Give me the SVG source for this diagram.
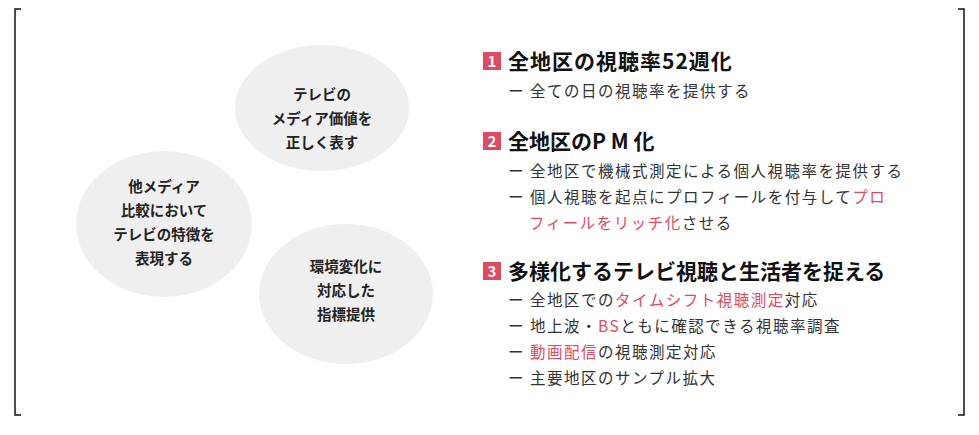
<svg xmlns="http://www.w3.org/2000/svg" width="979" height="435" viewBox="0 0 979 435">
<style>
.br{fill:none;stroke:#111;stroke-width:1.5}
.blob{fill:#efefef}
.bt{font-family:"Noto Sans CJK JP","Noto Sans",sans-serif;font-size:14.5px;font-weight:bold;fill:#222;text-anchor:middle}
.h{font-family:"Noto Sans CJK JP","Noto Sans",sans-serif;font-size:21px;font-weight:bold;fill:#111}
.num{font-family:"Noto Sans CJK JP","Noto Sans",sans-serif;font-size:15px;font-weight:bold;fill:#fff;text-anchor:middle}
.nb{fill:#e04a5f}
.t{font-family:"Noto Sans CJK JP","Noto Sans",sans-serif;font-size:15.5px;fill:#333;letter-spacing:1.5px}
.r{fill:#e04a5f}
</style>
<g id="frame">
<path class="br" d="M21 9 H15 V415 H21"/>
<path class="br" d="M958 9 H964 V415 H958"/>
</g>
<g id="node1"><ellipse class="blob" cx="322" cy="108" rx="87" ry="63"/>
<text class="bt" x="322" y="100">テレビの</text><text class="bt" x="322" y="124">メディア価値を</text><text class="bt" x="322" y="148">正しく表す</text></g>
<g id="node2"><ellipse class="blob" cx="164" cy="224" rx="88" ry="73"/>
<text class="bt" x="164" y="192">他メディア</text><text class="bt" x="164" y="216">比較において</text><text class="bt" x="164" y="240">テレビの特徴を</text><text class="bt" x="164" y="264">表現する</text></g>
<g id="node3"><ellipse class="blob" cx="346" cy="294" rx="87" ry="70"/>
<text class="bt" x="346" y="272">環境変化に</text><text class="bt" x="346" y="296">対応した</text><text class="bt" x="346" y="320">指標提供</text></g>
<g id="item1">
<rect class="nb" x="483" y="52" width="18" height="18"/><text class="num" x="492" y="67">1</text>
<text class="h" x="508" y="69" letter-spacing="1">全地区の視聴率52週化</text>
<text class="t" x="508" y="97">ー 全ての日の視聴率を提供する</text>
</g>
<g id="item2">
<rect class="nb" x="483" y="132" width="18" height="18"/><text class="num" x="492" y="147">2</text>
<text class="h" x="508" y="149">全地区のP M 化</text>
<text class="t" x="508" y="177">ー 全地区で機械式測定による個人視聴率を提供する</text>
<text class="t" x="508" y="203">ー 個人視聴を起点にプロフィールを付与して<tspan class="r">プロ</tspan></text>
<text class="t" x="529" y="229"><tspan class="r">フィールをリッチ化</tspan>させる</text>
</g>
<g id="item3">
<rect class="nb" x="483" y="262" width="18" height="18"/><text class="num" x="492" y="277">3</text>
<text class="h" x="508" y="279">多様化するテレビ視聴と生活者を捉える</text>
<text class="t" x="508" y="306">ー 全地区での<tspan class="r">タイムシフト視聴測定</tspan>対応</text>
<text class="t" x="508" y="332">ー 地上波・<tspan class="r">BS</tspan>ともに確認できる視聴率調査</text>
<text class="t" x="508" y="358">ー <tspan class="r">動画配信</tspan>の視聴測定対応</text>
<text class="t" x="508" y="384">ー 主要地区のサンプル拡大</text>
</g>
</svg>
